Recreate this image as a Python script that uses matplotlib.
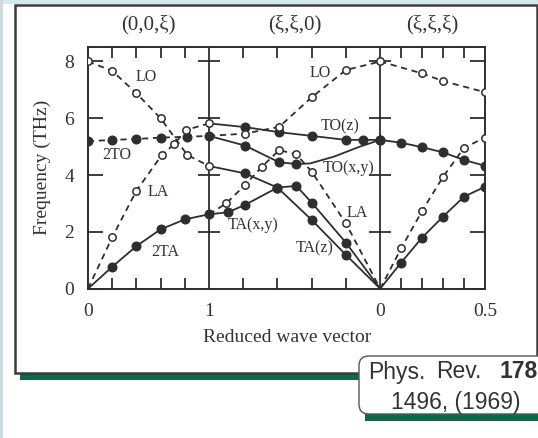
import numpy as np
import matplotlib.pyplot as plt
from matplotlib.patches import Rectangle, FancyBboxPatch

plt.rcParams['font.family'] = ['Liberation Serif', 'DejaVu Serif']

W, H = 538, 438
INK = '#2e2e2e'
GREEN = '#0b6b45'

# section lengths along the path: (0,0,xi), (xi,xi,0), (xi,xi,xi)
L1, L2, L3 = 1.0, np.sqrt(2), np.sqrt(3) / 2
section_titles = ['(0,0,ξ)', '(ξ,ξ,0)', '(ξ,ξ,ξ)']

# ---- section 1 : (0,0,xi), xi 0 -> 1 ----
lo1_xi = [0, 0.2, 0.4, 0.6, 0.82, 1.0]
lo1_f = [8.0, 7.67, 6.88, 6.0, 4.71, 4.32]
la1_xi = [0, 0.2, 0.4, 0.61, 0.71, 0.81, 1.0]
la1_f = [0, 1.81, 3.45, 4.71, 5.08, 5.59, 5.82]
to1_xi = [0, 0.2, 0.4, 0.6, 0.82, 1.0]
to1_f = [5.19, 5.24, 5.27, 5.32, 5.35, 5.38]
ta1_xi = [0, 0.2, 0.4, 0.6, 0.8, 1.0]
ta1_f = [0, 0.77, 1.50, 2.09, 2.44, 2.62]

# ---- section 2 : (xi,xi,0), xi 1 -> 0 ----
toz_xi = [1.0, 0.79, 0.59, 0.40, 0.2, 0.1, 0.0]
toz_f = [5.82, 5.69, 5.51, 5.38, 5.24, 5.24, 5.24]
toxy_xi = [1.0, 0.79, 0.59, 0.49, 0.41, 0.27, 0.12, 0.0]
toxy_f = [5.38, 5.04, 4.45, 4.39, 4.41, 4.65, 5.0, 5.24]
toxy_pts = [1, 2, 3]
taz_xi = [1.0, 0.79, 0.6, 0.4, 0.2, 0.0]
taz_f = [4.32, 4.06, 3.56, 2.42, 1.19, 0.0]
taxy_xi = [1.0, 0.89, 0.79, 0.6, 0.49, 0.4, 0.2, 0.0]
taxy_f = [2.62, 2.69, 2.95, 3.56, 3.62, 3.03, 1.62, 0.0]
lo2_xi = [1.0, 0.79, 0.59, 0.40, 0.2, 0.0]
lo2_f = [5.38, 5.46, 5.70, 6.74, 7.70, 8.0]
la2_xi = [1.0, 0.9, 0.79, 0.69, 0.59, 0.49, 0.40, 0.2, 0.0]
la2_f = [2.62, 3.0, 3.65, 4.3, 4.88, 4.73, 4.12, 2.30, 0.0]

# ---- section 3 : (xi,xi,xi), xi 0 -> 0.5 ----
lo3_xi = [0, 0.2, 0.3, 0.5]
lo3_f = [8.0, 7.58, 7.31, 6.92]
to3_xi = [0, 0.1, 0.2, 0.3, 0.4, 0.5]
to3_f = [5.24, 5.14, 4.98, 4.80, 4.53, 4.33]
la3_xi = [0, 0.1, 0.2, 0.3, 0.4, 0.5]
la3_f = [0, 1.42, 2.74, 3.94, 4.96, 5.32]
ta3_xi = [0, 0.1, 0.2, 0.3, 0.4, 0.5]
ta3_f = [0, 0.92, 1.80, 2.54, 3.24, 3.59]

x_ticklabels = ['0', '1', '0', '0.5']
y_ticks = [0, 2, 4, 6, 8]


def pos(sec, xi):
    xi = np.asarray(xi, dtype=float)
    if sec == 1:
        return xi * L1
    if sec == 2:
        return L1 + (1 - xi) * L2
    return L1 + L2 + xi * np.sqrt(3)


def branch(sec, xi, f, dashed, filled, pts=None):
    x = pos(sec, xi)
    f = np.asarray(f)
    ls = (0, (3.4, 2.6)) if dashed else '-'
    ax.plot(x, f, color=INK, lw=1.3, ls=ls, zorder=2)
    if pts is None:
        pts = [i for i in range(len(f)) if f[i] != 0]
    if filled:
        ax.plot(x[pts], f[pts], 'o', ms=6.2, color=INK, mec=INK, zorder=4)
    else:
        ax.plot(x[pts], f[pts], 'o', ms=5.3, mfc='white', mec=INK, mew=1.1, zorder=5)


def fx(px):
    return px / W


def fy(py):
    return 1 - py / H


fig = plt.figure(figsize=(W / 100, H / 100), dpi=100)

# slide background bits
fig.add_artist(Rectangle((0, fy(4)), 1, 4 / H, transform=fig.transFigure,
                         color='#d3eaec', lw=0, zorder=0))
fig.add_artist(Rectangle((0, 0), 3 / W, 1, transform=fig.transFigure,
                         color='#cadcdc', lw=0, zorder=0))
# panel + shadow
fig.add_artist(Rectangle((fx(20), fy(380)), (360 - 20) / W, 6 / H,
                         transform=fig.transFigure, color=GREEN, lw=0, zorder=1))
fig.add_artist(Rectangle((fx(15), fy(373)), (537 - 15) / W, (373 - 5) / H,
                         transform=fig.transFigure, fc='white', ec='#3c3c3c',
                         lw=1.8, zorder=1))

ax = fig.add_axes([fx(88), fy(288.7), (485 - 88) / W, (288.7 - 47) / H])
ax.set_zorder(3)
ax.patch.set_alpha(0)
xmax = L1 + L2 + L3
ax.set_xlim(0, xmax)
ax.set_ylim(0, 8.51)

branch(1, lo1_xi, lo1_f, True, False)
branch(1, la1_xi, la1_f, True, False)
branch(1, to1_xi, to1_f, True, True)
branch(1, ta1_xi, ta1_f, False, True)

branch(2, lo2_xi, lo2_f, True, False, pts=[1, 2, 3, 4])
branch(2, la2_xi, la2_f, True, False, pts=[1, 2, 3, 4, 5, 6, 7])
branch(2, toz_xi, toz_f, False, True, pts=[1, 2, 3, 4, 5, 6])
branch(2, toxy_xi, toxy_f, False, True, pts=toxy_pts)
branch(2, taz_xi, taz_f, False, True, pts=[1, 2, 3, 4])
branch(2, taxy_xi, taxy_f, False, True, pts=[1, 2, 3, 4, 5, 6])

branch(3, lo3_xi, lo3_f, True, False)
branch(3, to3_xi, to3_f, False, True)
branch(3, la3_xi, la3_f, True, False)
branch(3, ta3_xi, ta3_f, False, True)

# internal boundaries with cross ticks
for xb in [L1, L1 + L2]:
    ax.axvline(xb, color=INK, lw=1.3, zorder=1)
    ax.plot([xb] * 4, y_ticks[1:], marker='_', ms=16, mew=1.3, ls='none',
            color=INK, zorder=1)

ax.set_xticks([0, L1, L1 + L2, xmax])
ax.set_xticklabels(x_ticklabels)
minor = list(pos(1, [0.2, 0.4, 0.6, 0.8])) + list(pos(2, [0.8, 0.6, 0.4, 0.2])) \
    + list(pos(3, [0.1, 0.2, 0.3, 0.4]))
ax.set_xticks(minor, minor=True)
ax.set_yticks(y_ticks)
ax.tick_params(axis='x', which='major', length=0, pad=10, labelsize=14, labelcolor='#333')
ax.tick_params(axis='x', which='minor', direction='in', length=8, width=1.3,
               top=True, bottom=True, color=INK)
ax.tick_params(axis='y', direction='in', length=11, width=1.3, left=True, right=True,
               pad=10, labelsize=14, labelcolor='#333', color=INK)
for s in ax.spines.values():
    s.set_color(INK)
    s.set_linewidth(1.4)

ax.set_xlabel('Reduced wave vector', fontsize=14, color='#333')
ax.xaxis.set_label_coords(0.5025, -0.165)
ax.set_ylabel('Frequency (THz)', fontsize=14, color='#333')
ax.yaxis.set_label_coords(-0.093, 0.5)

sec_mid = [L1 / 2, L1 + L2 / 2, L1 + L2 + L3 / 2]
for xm, t in zip(sec_mid, section_titles):
    ax.text(xm, 1.091, t, transform=ax.get_xaxis_transform(), ha='center',
            va='center', fontsize=15, color='#333')

lab = dict(fontsize=11.5, color='#333', ha='center', va='center', zorder=6)
ax.text(0.485, 7.46, 'LO', **lab)
ax.text(0.237, 4.71, '2TO', **lab)
ax.text(0.581, 3.42, 'LA', **lab)
ax.text(0.636, 1.30, '2TA', **lab)
ax.text(1.917, 7.58, 'LO', **lab)
ax.text(2.083, 5.70, 'TO(z)', **lab)
ax.text(2.149, 4.25, 'TO(x,y)', **lab)
ax.text(2.221, 2.65, 'LA', **lab)
ax.text(1.366, 2.24, 'TA(x,y)', **lab)
ax.text(1.876, 1.42, 'TA(z)', **lab)

# citation box
fig.add_artist(Rectangle((fx(365), fy(421)), (540 - 365) / W, 7 / H,
                         transform=fig.transFigure, color=GREEN, lw=0, zorder=7))
fig.add_artist(FancyBboxPatch((fx(359), fy(414)), (560 - 359) / W, (414 - 356) / H,
                              boxstyle='round,pad=0,rounding_size=0.018',
                              transform=fig.transFigure, fc='white', ec='#555555',
                              lw=1.0, zorder=8, mutation_aspect=W / H))
cite = dict(family=['Liberation Sans', 'DejaVu Sans'], fontsize=16.5, color='#333',
            va='center', zorder=9)
fig.text(fx(368), fy(372), 'Phys.', ha='left', **cite)
fig.text(fx(436), fy(372), 'Rev.', ha='left', **cite)
fig.text(fx(538), fy(372), '178', ha='right', weight='bold', **cite)
fig.text(fx(456), fy(402), '1496, (1969)', ha='center', **cite)

fig.savefig('out.png', dpi=100)
